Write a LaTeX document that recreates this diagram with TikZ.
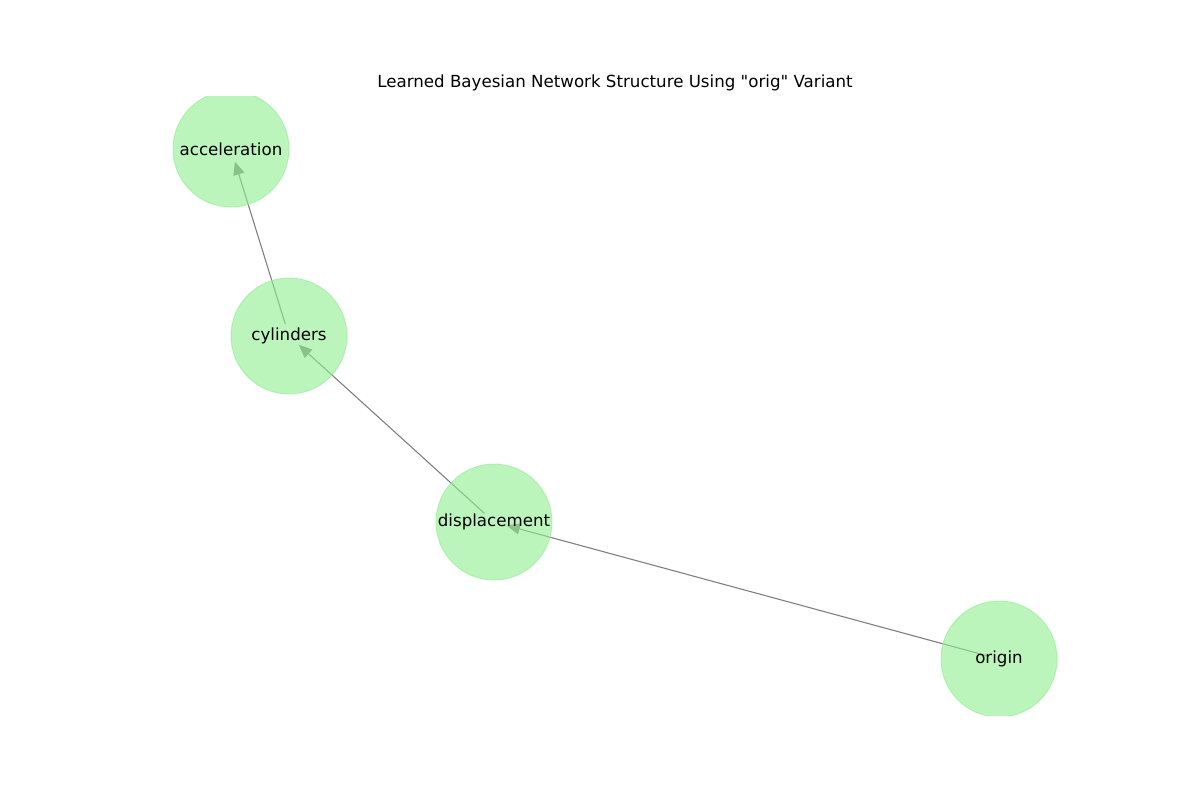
\documentclass[tikz,border=0pt]{standalone}
\usepackage{fontspec}
\setmainfont{DejaVu Sans}[Ligatures=TeXOff]
\usetikzlibrary{arrows.meta,backgrounds}
\definecolor{nodegreen}{HTML}{90EE90}
\definecolor{edgegray}{HTML}{808080}
\tikzset{
  vertex/.style={circle, minimum size=58pt, inner sep=0pt,
    fill=nodegreen, draw=nodegreen, line width=0.5pt,
    fill opacity=0.6, draw opacity=0.6, text opacity=1,
    font=\fontsize{8.33pt}{10pt}\selectfont},
  link/.style={draw=edgegray, line width=0.55pt,
    -{Triangle[length=6.6pt,width=5.6pt]}, shorten <=6.4pt, shorten >=6.6pt},
  caption/.style={font=\fontsize{8.33pt}{10pt}\selectfont, inner sep=0pt}
}
\begin{document}
\begin{tikzpicture}[x=0.5pt, y=-0.5pt]
  \useasboundingbox (0,0) rectangle (1200,800);
  \node[caption] (title) at (615,83) {Learned Bayesian Network Structure Using "orig" Variant};
  \begin{scope}
    \clip (150,96) rectangle (1080,715);
    \node[vertex] (acc) at (231,149) {acceleration};
    \node[vertex] (cyl) at (289,336) {cylinders};
    \node[vertex] (disp) at (494,522) {displacement};
    \node[vertex] (orig) at (999,659) {origin};
  \end{scope}
  \begin{pgfonlayer}{background}
    \draw[link] (cyl.center) -- (acc.center);
    \draw[link] (disp.center) -- (cyl.center);
    \draw[link] (orig.center) -- (disp.center);
  \end{pgfonlayer}
\end{tikzpicture}
\end{document}
